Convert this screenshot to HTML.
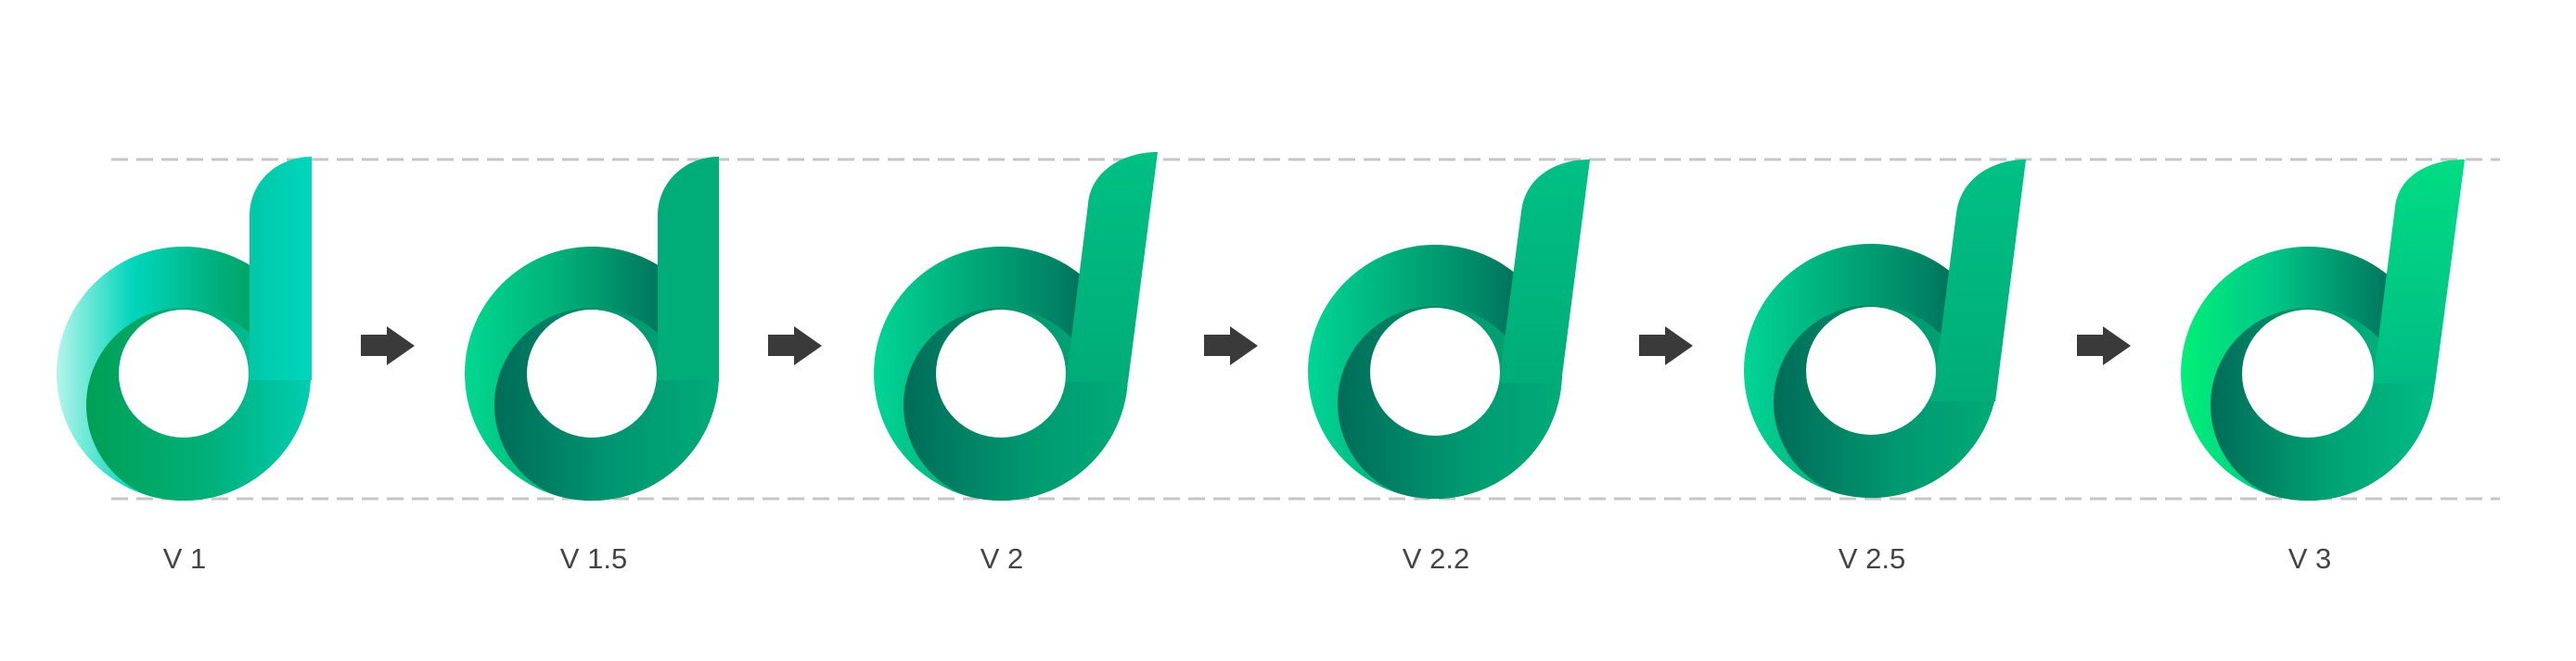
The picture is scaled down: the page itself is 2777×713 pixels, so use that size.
<!DOCTYPE html>
<html><head><meta charset="utf-8"><style>
html,body{margin:0;padding:0;background:#fff;}
svg{display:block;}
text{font-family:"Liberation Sans",sans-serif;font-size:31px;fill:#444;text-anchor:middle;font-weight:normal;}
</style></head><body>
<svg width="2777" height="713" viewBox="0 0 2777 713" xmlns="http://www.w3.org/2000/svg">
<defs>
<linearGradient id="a1" gradientUnits="userSpaceOnUse" x1="61" y1="0" x2="335" y2="0">
<stop offset="0" stop-color="#b4f5ea"/><stop offset="0.3" stop-color="#00d6bc"/><stop offset="0.62" stop-color="#00b07e"/><stop offset="0.9" stop-color="#009a50"/></linearGradient>
<linearGradient id="b1" gradientUnits="userSpaceOnUse" x1="93" y1="0" x2="335" y2="0">
<stop offset="0" stop-color="#00a055"/><stop offset="0.55" stop-color="#00b07a"/><stop offset="1" stop-color="#00cdb0"/></linearGradient>
<linearGradient id="s1" gradientUnits="userSpaceOnUse" x1="269" y1="0" x2="336" y2="0">
<stop offset="0" stop-color="#00c8a8"/><stop offset="1" stop-color="#00d6bc"/></linearGradient>

<linearGradient id="a2" gradientUnits="userSpaceOnUse" x1="501" y1="0" x2="775" y2="0">
<stop offset="0" stop-color="#00d890"/><stop offset="0.35" stop-color="#00b478"/><stop offset="0.7" stop-color="#008062"/><stop offset="0.95" stop-color="#005a48"/></linearGradient>
<linearGradient id="b2" gradientUnits="userSpaceOnUse" x1="534" y1="0" x2="775" y2="0">
<stop offset="0" stop-color="#006c58"/><stop offset="0.5" stop-color="#009470"/><stop offset="1" stop-color="#00ac78"/></linearGradient>

<linearGradient id="a3" gradientUnits="objectBoundingBox" x1="0" y1="0" x2="1" y2="0">
<stop offset="0" stop-color="#00d696"/><stop offset="0.4" stop-color="#00a876"/><stop offset="0.72" stop-color="#008264"/><stop offset="0.95" stop-color="#005a48"/></linearGradient>
<linearGradient id="b3c1" gradientUnits="userSpaceOnUse" x1="974" y1="0" x2="1216" y2="0">
<stop offset="0" stop-color="#006c58"/><stop offset="0.55" stop-color="#009870"/><stop offset="1" stop-color="#00ac78"/></linearGradient>
<linearGradient id="b3c2" gradientUnits="userSpaceOnUse" x1="1442" y1="0" x2="1684" y2="0">
<stop offset="0" stop-color="#006c58"/><stop offset="0.55" stop-color="#009870"/><stop offset="1" stop-color="#00ac78"/></linearGradient>
<linearGradient id="b3c3" gradientUnits="userSpaceOnUse" x1="1912" y1="0" x2="2154" y2="0">
<stop offset="0" stop-color="#006c58"/><stop offset="0.55" stop-color="#009870"/><stop offset="1" stop-color="#00ac78"/></linearGradient>
<linearGradient id="s3" x1="0" y1="1" x2="0" y2="0"><stop offset="0" stop-color="#00ac78"/><stop offset="1" stop-color="#00c084"/></linearGradient>

<linearGradient id="a6" gradientUnits="objectBoundingBox" x1="0" y1="0" x2="1" y2="0">
<stop offset="0" stop-color="#00f078"/><stop offset="0.35" stop-color="#00c888"/><stop offset="0.7" stop-color="#008a68"/><stop offset="0.95" stop-color="#006050"/></linearGradient>
<linearGradient id="b6" gradientUnits="userSpaceOnUse" x1="2383" y1="0" x2="2625" y2="0">
<stop offset="0" stop-color="#006c58"/><stop offset="0.55" stop-color="#00a474"/><stop offset="1" stop-color="#00bc84"/></linearGradient>
<linearGradient id="s6" x1="0" y1="1" x2="0" y2="0"><stop offset="0" stop-color="#00bc84"/><stop offset="1" stop-color="#00dc84"/></linearGradient>
<clipPath id="c1"><circle cx="198" cy="403" r="137"/></clipPath>
<clipPath id="c2"><circle cx="638" cy="403" r="137"/></clipPath>
<clipPath id="c3"><circle cx="1079" cy="403" r="137"/></clipPath>
<clipPath id="c4"><circle cx="1547" cy="401" r="137"/></clipPath>
<clipPath id="c5"><circle cx="2017" cy="400" r="137"/></clipPath>
<clipPath id="c6"><circle cx="2488" cy="403" r="137"/></clipPath>
</defs>

<line x1="120" y1="172" x2="2695" y2="172" stroke="#c6c6c6" stroke-width="3" stroke-dasharray="18 9"/>
<line x1="120" y1="538" x2="2695" y2="538" stroke="#c6c6c6" stroke-width="3" stroke-dasharray="18 9"/>

<!-- V1 -->
<g>
<circle cx="198" cy="403" r="137" fill="url(#a1)"/>
<g clip-path="url(#c1)" fill="url(#b1)">
<circle cx="198" cy="437" r="105"/><rect x="198" y="400" width="140" height="145"/></g>
<path d="M269 233 C269 195 300 169 336 169 L336 410 L269 410 Z" fill="url(#s1)"/>
<ellipse cx="198" cy="403" rx="70" ry="69" fill="#fff"/>
</g>
<!-- V1.5 -->
<g>
<circle cx="638" cy="403" r="137" fill="url(#a2)"/>
<g clip-path="url(#c2)" fill="url(#b2)">
<circle cx="638" cy="437" r="105"/><rect x="638" y="400" width="140" height="145"/></g>
<path d="M709 233 C709 195 740 169 775 169 L775 410 L709 410 Z" fill="#00ac78"/>
<ellipse cx="638" cy="403" rx="70" ry="69" fill="#fff"/>
</g>
<!-- V2 -->
<g>
<circle cx="1079" cy="403" r="137" fill="url(#a3)"/>
<g clip-path="url(#c3)" fill="url(#b3c1)">
<circle cx="1079" cy="437" r="105"/><rect x="1079" y="400" width="140" height="145"/></g>
<path d="M1173 220 C1176 185 1210 164 1248 164 L1216 412 L1149 412 Z" fill="url(#s3)"/>
<ellipse cx="1079" cy="403" rx="70" ry="69" fill="#fff"/>
</g>
<!-- V2.2 -->
<g>
<circle cx="1547" cy="401" r="137" fill="url(#a3)"/>
<g clip-path="url(#c4)" fill="url(#b3c2)">
<circle cx="1547" cy="435" r="105"/><rect x="1547" y="398" width="140" height="145"/></g>
<path d="M1640 228 C1644 192 1676 172 1714 172 L1683 413 L1616 413 Z" fill="url(#s3)"/>
<ellipse cx="1547" cy="401" rx="70" ry="69" fill="#fff"/>
</g>
<!-- V2.5 -->
<g>
<circle cx="2017" cy="400" r="137" fill="url(#a3)"/>
<g clip-path="url(#c5)" fill="url(#b3c3)">
<circle cx="2017" cy="434" r="105"/><rect x="2017" y="397" width="140" height="145"/></g>
<path d="M2109 230 C2113 194 2146 172 2184 172 L2151 433 L2080 433 L2086 410 Z" fill="url(#s3)"/>
<ellipse cx="2017" cy="400" rx="70" ry="69" fill="#fff"/>
</g>
<!-- V3 -->
<g>
<circle cx="2488" cy="403" r="137" fill="url(#a6)"/>
<g clip-path="url(#c6)" fill="url(#b6)">
<circle cx="2488" cy="437" r="105"/><rect x="2488" y="400" width="140" height="145"/></g>
<path d="M2582 223 C2586 190 2618 172 2657 172 L2625 414 L2558 414 Z" fill="url(#s6)"/>
<ellipse cx="2488" cy="403" rx="71" ry="69" fill="#fff"/>
</g>

<g fill="#3a3a3a">
<polygon points="389,361 417,361 417,352 447,373 417,394 417,384 389,384"/>
<polygon points="828,361 856,361 856,352 886,373 856,394 856,384 828,384"/>
<polygon points="1298,361 1326,361 1326,352 1356,373 1326,394 1326,384 1298,384"/>
<polygon points="1767,361 1795,361 1795,352 1825,373 1795,394 1795,384 1767,384"/>
<polygon points="2239,361 2267,361 2267,352 2297,373 2267,394 2267,384 2239,384"/>
</g>

<text x="199" y="613">V 1</text>
<text x="640" y="613">V 1.5</text>
<text x="1080" y="613">V 2</text>
<text x="1548" y="613">V 2.2</text>
<text x="2018" y="613">V 2.5</text>
<text x="2490" y="613">V 3</text>
</svg>
</body></html>
